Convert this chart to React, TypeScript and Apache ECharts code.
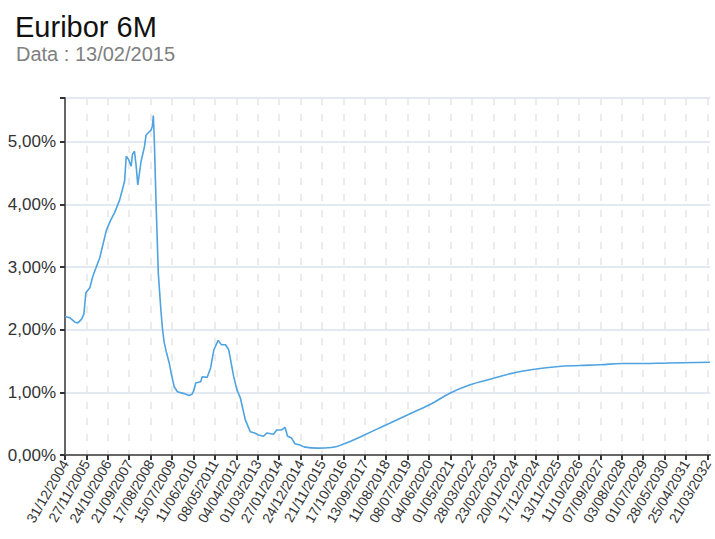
import React, { useEffect, useRef } from "react";
import * as echarts from "echarts";

const TITLE = "Euribor 6M";
const SUBTITLE = "Data : 13/02/2015";

// Historical fixings (date, % value)
const histDates = [
  "2004-12-31", "2005-03-18", "2005-06-03", "2005-07-19", "2005-09-14", "2005-10-19", "2005-11-19",
  "2006-01-19", "2006-03-06", "2006-05-02", "2006-06-22", "2006-10-03", "2006-12-08",
  "2007-02-07", "2007-04-25", "2007-07-11", "2007-08-06", "2007-09-10", "2007-10-21", "2007-11-10", "2007-12-11",
  "2008-01-06", "2008-01-31", "2008-03-23", "2008-05-13", "2008-06-08", "2008-08-24", "2008-09-13", "2008-09-28",
  "2008-10-13", "2008-11-13", "2008-12-14",
  "2009-01-24", "2009-02-18", "2009-03-16", "2009-04-16", "2009-06-01", "2009-07-02", "2009-08-17", "2009-10-06",
  "2010-01-17", "2010-04-04", "2010-05-20", "2010-06-20", "2010-07-16", "2010-10-01", "2010-10-25",
  "2011-01-10", "2011-03-03", "2011-04-23", "2011-06-28", "2011-08-19", "2011-10-20", "2011-12-09",
  "2012-02-24", "2012-04-15", "2012-06-06", "2012-08-22", "2012-11-07",
  "2013-01-12", "2013-03-14", "2013-05-30", "2013-07-20", "2013-10-31", "2013-12-20",
  "2014-03-07", "2014-04-28", "2014-06-07", "2014-08-08", "2014-09-29", "2014-12-15",
  "2015-02-13",
];
const histValues = [
  2.21, 2.19, 2.12, 2.11, 2.17, 2.25, 2.59,
  2.67, 2.85, 3.01, 3.15, 3.59, 3.75,
  3.87, 4.07, 4.37, 4.77, 4.72, 4.61, 4.8, 4.85,
  4.62, 4.31, 4.69, 4.92, 5.11, 5.19, 5.25, 5.42,
  5.03, 3.9, 2.9,
  2.3, 2.0, 1.79, 1.65, 1.47, 1.3, 1.09, 1.01,
  0.98, 0.95, 0.97, 1.04, 1.15, 1.17, 1.25,
  1.24, 1.39, 1.68, 1.83, 1.76, 1.76, 1.68,
  1.25, 1.04, 0.91, 0.56, 0.37,
  0.35, 0.32, 0.3, 0.35, 0.33, 0.4,
  0.4, 0.44, 0.3, 0.27, 0.18, 0.16,
  0.13,
];

// Forward curve (date, % value)
const fwdDates = [
  "2015-02-13", "2015-09-22", "2016-04-13", "2016-10-10", "2017-09-08", "2018-08-06", "2019-07-05",
  "2020-06-27", "2021-04-30", "2022-03-03", "2023-01-05", "2023-12-30", "2024-11-26", "2025-10-25",
  "2026-10-18", "2027-08-21", "2028-08-15", "2029-06-18", "2030-07-31", "2032-05-02",
];
const fwdValues = [
  0.13, 0.11, 0.12, 0.17, 0.32, 0.48, 0.64,
  0.81, 0.99, 1.12, 1.21, 1.31, 1.37, 1.41,
  1.43, 1.44, 1.46, 1.46, 1.47, 1.48,
];

const BASE = Date.UTC(2004, 11, 31);
const X_INTERVAL = 331.418; // days between tick labels
const X_MAX = 9984;
const Y_TICKS_MAX = 5.7;

const toDays = (s: string) => {
  const [y, m, d] = s.split("-").map(Number);
  return (Date.UTC(y, m - 1, d) - BASE) / 86400000;
};
const pad = (n: number) => (n < 10 ? "0" + n : "" + n);

export default function App() {
  const ref = useRef<HTMLDivElement>(null);
  useEffect(() => {
    if (!ref.current) return;
    const chart = echarts.init(ref.current, null, { renderer: "svg" });
    const font = "'Liberation Sans', Arial, Helvetica, sans-serif";
    const lineColor = "#4ea3e0";
    chart.setOption({
      animation: false,
      backgroundColor: "#ffffff",
      title: [
        {
          text: TITLE,
          left: 10,
          top: 7,
          textStyle: { fontSize: 29, fontWeight: "normal", color: "#111", fontFamily: font },
        },
        {
          text: SUBTITLE,
          left: 11,
          top: 39,
          textStyle: { fontSize: 20, fontWeight: "normal", color: "#808080", fontFamily: font },
        },
      ],
      grid: { left: 65, right: 0, top: 98, bottom: 84, containLabel: false },
      xAxis: {
        type: "value",
        min: 0,
        max: X_MAX,
        interval: X_INTERVAL,
        axisLine: { show: true, onZero: false, lineStyle: { color: "#666", width: 2 } },
        axisTick: { show: true, length: 5, lineStyle: { color: "#333", width: 2 } },
        axisLabel: {
          rotate: 60,
          margin: 6,
          fontSize: 14,
          color: "#333",
          fontFamily: font,
          showMaxLabel: false,
          formatter: (v: number) => {
            const k = v / X_INTERVAL;
            if (Math.abs(k - Math.round(k)) > 1e-4) return "";
            const dt = new Date(BASE + v * 86400000);
            return pad(dt.getUTCDate()) + "/" + pad(dt.getUTCMonth() + 1) + "/" + dt.getUTCFullYear();
          },
        },
        splitLine: {
          show: true,
          showMinLine: false,
          showMaxLine: false,
          lineStyle: { color: "#e6e6e6", width: 1.5, type: [7, 9] },
        },
      },
      yAxis: {
        type: "value",
        min: 0,
        max: Y_TICKS_MAX,
        interval: 1,
        axisLine: { show: true, lineStyle: { color: "#666", width: 2 } },
        axisTick: { show: true, length: 5, lineStyle: { color: "#333", width: 2 } },
        axisLabel: {
          margin: 9,
          fontSize: 17,
          color: "#333",
          fontFamily: font,
          formatter: (v: number) =>
            Math.abs(v - Math.round(v)) > 1e-6 ? "" : v.toFixed(2).replace(".", ",") + "%",
        },
        splitLine: {
          show: true,
          showMinLine: false,
          lineStyle: { color: "#d9e2ee", width: 1.5 },
        },
      },
      series: [
        {
          type: "line",
          data: histDates.map((d, i) => [toDays(d), histValues[i]]),
          showSymbol: false,
          lineStyle: { color: lineColor, width: 1.6 },
          itemStyle: { color: lineColor },
        },
        {
          type: "line",
          data: fwdDates.map((d, i) => [toDays(d), fwdValues[i]]),
          showSymbol: false,
          smooth: true,
          lineStyle: { color: lineColor, width: 1.6 },
          itemStyle: { color: lineColor },
        },
      ],
    });
    return () => chart.dispose();
  }, []);
  return (
    <div
      ref={ref}
      style={{ position: "absolute", left: 0, top: 0, width: 715, height: 539 }}
    />
  );
}
